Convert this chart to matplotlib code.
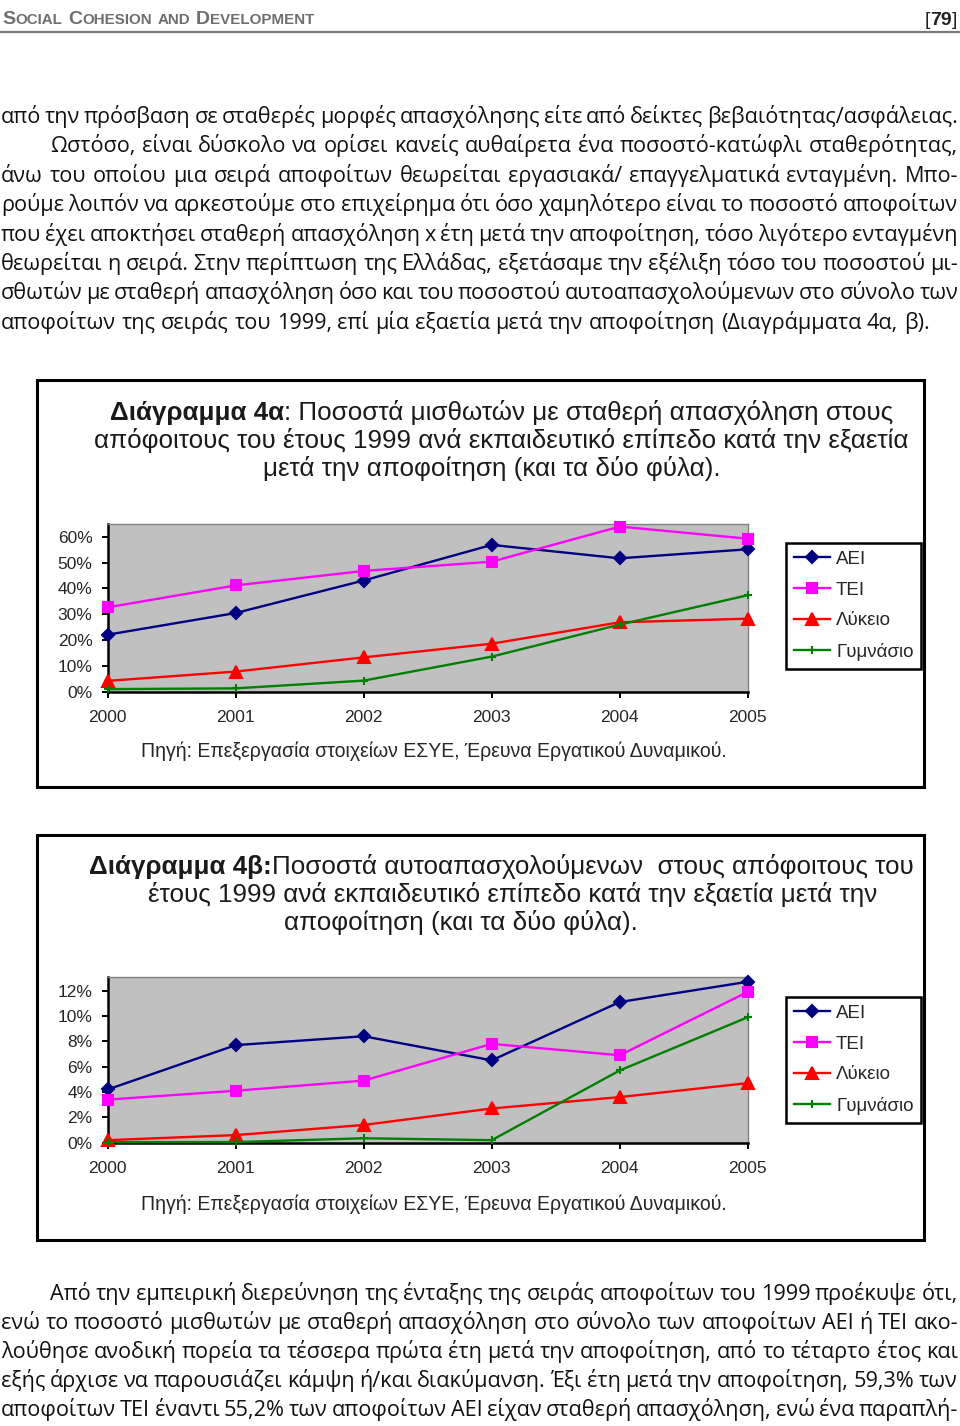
import matplotlib.pyplot as plt
from matplotlib import font_manager
from matplotlib.lines import Line2D
from matplotlib.patches import Rectangle

W, H = 960, 1426

# ---- data (percent) ----
years = [2000, 2001, 2002, 2003, 2004, 2005]
series = ['ΑΕΙ', 'ΤΕΙ', 'Λύκειο', 'Γυμνάσιο']

# Διάγραμμα 4α: μισθωτοί με σταθερή απασχόληση
misth_aei = [22.1, 30.5, 43.1, 56.9, 51.7, 55.2]
misth_tei = [32.7, 41.2, 46.8, 50.4, 64.0, 59.3]
misth_lyk = [4.2, 7.8, 13.3, 18.6, 26.9, 28.3]
misth_gym = [1.0, 1.3, 4.3, 13.6, 26.0, 37.4]

# Διάγραμμα 4β: αυτοαπασχολούμενοι
auto_aei = [4.2, 7.7, 8.4, 6.5, 11.1, 12.7]
auto_tei = [3.4, 4.1, 4.9, 7.8, 6.9, 11.9]
auto_lyk = [0.2, 0.6, 1.4, 2.7, 3.6, 4.7]
auto_gym = [0.05, 0.05, 0.35, 0.2, 5.7, 9.9]

yticks_a = [0, 10, 20, 30, 40, 50, 60]
yticks_b = [0, 2, 4, 6, 8, 10, 12]

title_a = [[('Διάγραμμα 4α', 'bold'), (': Ποσοστά μισθωτών με σταθερή απασχόληση στους', 'normal')],
           [('απόφοιτους του έτους 1999 ανά εκπαιδευτικό επίπεδο κατά την εξαετία', 'normal')],
           [('μετά την αποφοίτηση (και τα δύο φύλα).', 'normal')]]
title_b = [[('Διάγραμμα 4β:', 'bold'), ('Ποσοστά αυτοαπασχολούμενων  στους απόφοιτους του', 'normal')],
           [('έτους 1999 ανά εκπαιδευτικό επίπεδο κατά την εξαετία μετά την', 'normal')],
           [('αποφοίτηση (και τα δύο φύλα).', 'normal')]]
source = 'Πηγή: Επεξεργασία στοιχείων ΕΣΥΕ, Έρευνα Εργατικού Δυναμικού.'

text_top = [
    'από την πρόσβαση σε σταθερές μορφές απασχόλησης είτε από δείκτες βεβαιότητας/ασφάλειας.',
    'Ωστόσο, είναι δύσκολο να ορίσει κανείς αυθαίρετα ένα ποσοστό-κατώφλι σταθερότητας,',
    'άνω του οποίου μια σειρά αποφοίτων θεωρείται εργασιακά/ επαγγελματικά ενταγμένη. Μπο-',
    'ρούμε λοιπόν να αρκεστούμε στο επιχείρημα ότι όσο χαμηλότερο είναι το ποσοστό αποφοίτων',
    'που έχει αποκτήσει σταθερή απασχόληση x έτη μετά την αποφοίτηση, τόσο λιγότερο ενταγμένη',
    'θεωρείται η σειρά. Στην περίπτωση της Ελλάδας, εξετάσαμε την εξέλιξη τόσο του ποσοστού μι-',
    'σθωτών με σταθερή απασχόληση όσο και του ποσοστού αυτοαπασχολούμενων στο σύνολο των',
    'αποφοίτων της σειράς του 1999, επί μία εξαετία μετά την αποφοίτηση (Διαγράμματα 4α, β).',
]
text_bottom = [
    'Από την εμπειρική διερεύνηση της ένταξης της σειράς αποφοίτων του 1999 προέκυψε ότι,',
    'ενώ το ποσοστό μισθωτών με σταθερή απασχόληση στο σύνολο των αποφοίτων ΑΕΙ ή ΤΕΙ ακο-',
    'λούθησε ανοδική πορεία τα τέσσερα πρώτα έτη μετά την αποφοίτηση, από το τέταρτο έτος και',
    'εξής άρχισε να παρουσιάζει κάμψη ή/και διακύμανση. Έξι έτη μετά την αποφοίτηση, 59,3% των',
    'αποφοίτων ΤΕΙ έναντι 55,2% των αποφοίτων ΑΕΙ είχαν σταθερή απασχόληση, ενώ ένα παραπλή-',
]

colors = ['#000080', '#ff00ff', '#ff0000', '#008000']
markers = ['D', 's', '^', '+']
msizes = [6, 7.5, 8, 6]

installed = {f.name for f in font_manager.fontManager.ttflist}
chart_font = 'Liberation Sans'
head_font = 'Liberation Sans Narrow' if 'Liberation Sans Narrow' in installed else 'Liberation Sans'
body_font = 'Open Sans'
chart_col = '#262626'

fig = plt.figure(figsize=(W / 100, H / 100), dpi=100)
rend = fig.canvas.get_renderer()


def fx(x):
    return x / W


def fy(y):
    return 1 - y / H


def width_of(s, **kw):
    t = fig.text(0, 0, s, **kw)
    w = t.get_window_extent(rend).width
    t.remove()
    return w


def fit(s, target, **kw):
    return 10 * target / width_of(s, fontsize=10, **kw)


def runs(parts, y, cx=None, x=None, **kw):
    ws = [width_of(s, fontweight=wt, **kw) for s, wt in parts]
    if x is None:
        x = cx - sum(ws) / 2
    for (s, wt), w in zip(parts, ws):
        fig.text(fx(x), fy(y), s, fontweight=wt, va='baseline', ha='left', **kw)
        x += w


def justify(line, y, x0, x1, size, stretch=True):
    words = line.split(' ')
    ts = [fig.text(0, fy(y), w, fontsize=size, family=body_font, color='#111111',
                   va='baseline', ha='left') for w in words]
    ws = [t.get_window_extent(rend).width for t in ts]
    if stretch:
        gap = (x1 - x0 - sum(ws)) / (len(words) - 1)
    else:
        gap = width_of('a a', fontsize=size, family=body_font) - width_of('aa', fontsize=size, family=body_font)
    x = x0
    for t, w in zip(ts, ws):
        t.set_x(fx(x))
        x += w + gap


# ---- page header ----
hs_big = 14.0
hs_small = hs_big * 0.78
hx = 2
for s, big in [('S', 1), ('OCIAL', 0), (' ', 1), ('C', 1), ('OHESION', 0), (' ', 1), ('AND', 0),
               (' ', 1), ('D', 1), ('EVELOPMENT', 0)]:
    size = hs_big if big else hs_small
    if s == ' ':
        hx += 5
        continue
    t = fig.text(fx(hx), fy(24), s, fontsize=size, family=head_font, color='#6e6e6e',
                 fontweight='bold', va='baseline')
    hx += t.get_window_extent(rend).width + 0.5
runs([('[', 'normal'), ('79', 'bold'), (']', 'normal')], 25, x=925, fontsize=14,
     family=head_font, color='#222222')
fig.add_artist(Line2D([0, 1], [fy(31.5), fy(31.5)], transform=fig.transFigure, color='#7a7a7a', lw=1.6))

# ---- body text ----
body_size = fit(text_top[-1], 925, family=body_font)
for i, line in enumerate(text_top):
    y = 123 + 29.4 * i
    x0 = 50 if i == 1 else 1
    justify(line, y, x0, 958, body_size, stretch=(i != len(text_top) - 1))
for i, line in enumerate(text_bottom):
    y = 1300 + 29 * i
    x0 = 50 if i == 0 else 1
    justify(line, y, x0, 958, body_size)

# one size for both chart titles, taken from the widest line of 4α
title_size = fit(title_a[1][0][0], 818, family=chart_font)
source_size = fit(source, 587, family=chart_font)


# ---- charts ----
def draw_chart(box, top, bottom, ymax, yticks, vals, title, centers, title_base, src_base, leg_top):
    fig.add_artist(Rectangle((fx(box[0]), fy(box[3])), (box[2] - box[0]) / W, (box[3] - box[1]) / H,
                             transform=fig.transFigure, facecolor='white', edgecolor='black',
                             lw=2.2, zorder=-1))
    ax = fig.add_axes([fx(107.7), fy(bottom), (747.7 - 107.7) / W, (bottom - top) / H])
    ax.set_facecolor('#c0c0c0')
    for v, lab, c, m, ms in zip(vals, series, colors, markers, msizes):
        ax.plot(years, v, color=c, lw=1.7, marker=m, ms=ms, mfc=c, mec=c, mew=1.5,
                label=lab, clip_on=False, zorder=3)
    ax.set_xlim(2000, 2005)
    ax.set_ylim(0, ymax)
    ax.set_xticks(years)
    ax.set_xticklabels([str(y) for y in years])
    ax.set_yticks(yticks)
    ax.set_yticklabels([f'{t}%' for t in yticks])
    ax.tick_params(axis='both', direction='out', length=4, width=1.4, color='black',
                   labelsize=12.5, labelcolor=chart_col)
    ax.tick_params(axis='y', pad=7)
    ax.tick_params(axis='x', pad=9)
    for lbl in ax.get_xticklabels() + ax.get_yticklabels():
        lbl.set_family(chart_font)
    for sp in ['left', 'bottom']:
        ax.spines[sp].set_color('black')
        ax.spines[sp].set_linewidth(1.8)
    for sp in ['top', 'right']:
        ax.spines[sp].set_color('#808080')
        ax.spines[sp].set_linewidth(1.0)

    leg = ax.legend(loc='upper left', bbox_to_anchor=(fx(786), fy(leg_top)), bbox_transform=fig.transFigure,
                    frameon=True, fancybox=False, edgecolor='black', framealpha=1, borderaxespad=0,
                    prop={'family': chart_font, 'size': 13.5}, handlelength=1.95, handletextpad=0.3,
                    labelspacing=0.72, borderpad=0.42)
    leg.get_frame().set_linewidth(1.8)
    for t in leg.get_texts():
        t.set_color(chart_col)

    for i, (parts, cx) in enumerate(zip(title, centers)):
        runs(parts, title_base + 28 * i, cx=cx, fontsize=title_size, family=chart_font, color='#1a1a1a')

    fig.text(fx(433.5), fy(src_base), source, fontsize=source_size, family=chart_font, color=chart_col,
             ha='center', va='baseline')


draw_chart((37, 380, 924, 787), 524, 691.7, 65, yticks_a,
           [misth_aei, misth_tei, misth_lyk, misth_gym], title_a, [502, 501, 492], 420, 757, 543)
draw_chart((37, 835, 924, 1240), 976.7, 1142.7, 13.1, yticks_b,
           [auto_aei, auto_tei, auto_lyk, auto_gym], title_b, [501, 513, 461], 874, 1210, 997)

fig.savefig('out.png', dpi=100)
